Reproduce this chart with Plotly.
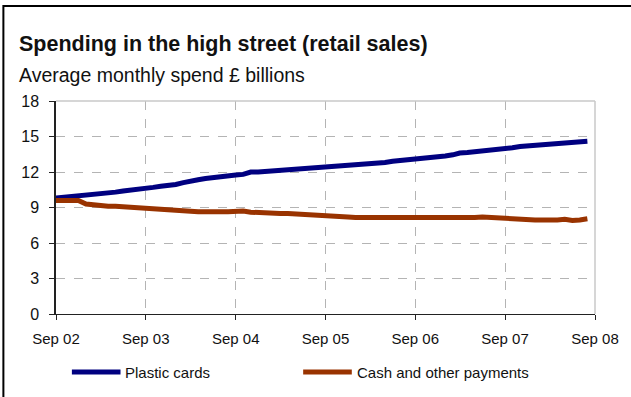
import pandas as pd
import plotly.graph_objects as go

# Monthly averages, Sep 2002 - Aug 2008 (£ billions)
months = pd.date_range("2002-09-01", "2008-08-01", freq="MS")

plastic_cards = [
    9.80, 9.85, 9.90, 9.95, 10.00, 10.05, 10.15, 10.20, 10.30, 10.40, 10.50, 10.60,
    10.65, 10.70, 10.80, 10.85, 10.95, 11.10, 11.25, 11.35, 11.45, 11.55, 11.65, 11.70,
    11.75, 11.80, 12.00, 12.00, 12.05, 12.10, 12.10, 12.15, 12.20, 12.20, 12.25, 12.30,
    12.35, 12.40, 12.45, 12.50, 12.55, 12.60, 12.65, 12.75, 12.80, 12.90, 12.95, 13.00,
    13.05, 13.10, 13.20, 13.25, 13.35, 13.45, 13.60, 13.65, 13.70, 13.80, 13.85, 13.90,
    13.95, 14.05, 14.15, 14.20, 14.30, 14.40, 14.40, 14.45, 14.50, 14.55, 14.60, 14.60,
]

cash_other = [
    9.60, 9.60, 9.55, 9.60, 9.30, 9.20, 9.15, 9.10, 9.10, 9.05, 9.00, 8.95,
    8.90, 8.90, 8.85, 8.85, 8.80, 8.75, 8.70, 8.65, 8.65, 8.70, 8.65, 8.65,
    8.70, 8.70, 8.60, 8.55, 8.55, 8.50, 8.50, 8.50, 8.45, 8.45, 8.40, 8.35,
    8.30, 8.30, 8.25, 8.20, 8.15, 8.15, 8.10, 8.10, 8.05, 8.05, 8.10, 8.10,
    8.10, 8.10, 8.05, 8.10, 8.10, 8.05, 8.10, 8.05, 8.15, 8.20, 8.15, 8.10,
    8.10, 8.05, 8.00, 7.90, 7.95, 7.95, 7.90, 7.95, 8.00, 7.90, 7.95, 8.05,
]

x_tick_dates = pd.date_range("2002-09-01", "2008-09-01", freq="12MS")
x_tick_labels = ["Sep 02", "Sep 03", "Sep 04", "Sep 05", "Sep 06", "Sep 07", "Sep 08"]
y_ticks = [0, 3, 6, 9, 12, 15, 18]

series_names = ["Plastic cards", "Cash and other payments"]
series_colors = ["#000080", "#993300"]

FONT = "Liberation Sans, Arial, sans-serif"
TEXT_COL = "#111111"

W, H = 631, 397
L, R, T, B = 56, 32, 101, 83
PW, PH = W - L - R, H - T - B


def px_x(p):
    return (p - L) / PW


def px_y(p):
    return (H - B - p) / PH


fig = go.Figure()
for name, vals, col in zip(series_names, [plastic_cards, cash_other], series_colors):
    fig.add_trace(go.Scatter(
        x=months, y=vals, mode="lines", name=name,
        line=dict(color=col, width=5), showlegend=False,
    ))

grid_col = "#b4b4b4"
fig.update_layout(
    width=W, height=H,
    margin=dict(l=L, r=R, t=T, b=B),
    paper_bgcolor="white", plot_bgcolor="white",
    font=dict(family=FONT, size=15, color=TEXT_COL),
    xaxis=dict(
        range=[x_tick_dates[0], x_tick_dates[-1]],
        tickvals=list(x_tick_dates), ticktext=x_tick_labels,
        showgrid=True, gridcolor=grid_col, griddash="dash", gridwidth=1,
        showline=True, linecolor="#222222", linewidth=1,
        ticks="outside", ticklen=5, tickcolor="#222222",
        zeroline=False, tickfont=dict(size=15), ticklabelstandoff=6,
    ),
    yaxis=dict(
        range=[0, 18], tickvals=y_ticks,
        showgrid=True, gridcolor=grid_col, griddash="dash", gridwidth=1,
        showline=True, linecolor="#222222", linewidth=1.5,
        ticks="outside", ticklen=5, tickcolor="#222222",
        zeroline=False, tickfont=dict(size=16), ticklabelstandoff=7,
    ),
)

shapes = [
    # top and right edges of the plot area
    dict(type="line", xref="paper", yref="paper", x0=0, x1=1, y0=1, y1=1,
         line=dict(color="#c8c8c8", width=1.5)),
    dict(type="line", xref="paper", yref="paper", x0=1, x1=1, y0=0, y1=1,
         line=dict(color="#c8c8c8", width=1.5)),
    # outer frame
    dict(type="rect", xref="paper", yref="paper",
         x0=px_x(3), x1=px_x(W + 10), y0=px_y(H + 10), y1=px_y(6),
         line=dict(color="#000000", width=2)),
]

# legend keys: (line start, line end, text start) in pixels
legend_keys = [(72, 121, 124), (305, 354, 357)]
LEGEND_Y = 372
for (xa, xb, xt), col in zip(legend_keys, series_colors):
    shapes.append(dict(type="line", xref="paper", yref="paper",
                       x0=px_x(xa), x1=px_x(xb), y0=px_y(LEGEND_Y), y1=px_y(LEGEND_Y),
                       line=dict(color=col, width=5)))
fig.update_layout(shapes=shapes)

annotations = [
    dict(text="<b>Spending in the high street (retail sales)</b>",
         x=px_x(17), y=px_y(44), xanchor="left", yanchor="middle",
         font=dict(size=21.5, color=TEXT_COL)),
    dict(text="Average monthly spend £ billions",
         x=px_x(17), y=px_y(75), xanchor="left", yanchor="middle",
         font=dict(size=19.5, color=TEXT_COL)),
]
for (xa, xb, xt), name in zip(legend_keys, series_names):
    annotations.append(dict(text=name, x=px_x(xt), y=px_y(LEGEND_Y),
                            xanchor="left", yanchor="middle",
                            font=dict(size=15, color=TEXT_COL)))
for a in annotations:
    a.update(xref="paper", yref="paper", showarrow=False)
fig.update_layout(annotations=annotations)

fig.write_html("out.html")
